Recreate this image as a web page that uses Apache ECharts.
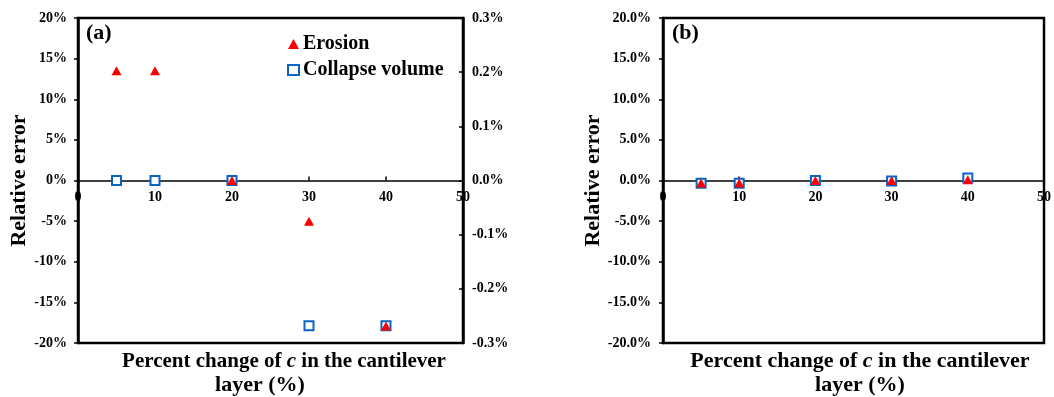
<!DOCTYPE html>
<html>
<head>
<meta charset="utf-8">
<script src="https://cdn.jsdelivr.net/npm/echarts@6/dist/echarts.min.js"></script>
<style>
html,body{margin:0;padding:0;background:#fff;}
#chart{width:1054px;height:397px;}
</style>
</head>
<body>
<div id="chart"></div>
<script>
// ---- data ----
const xValues = [5, 10, 20, 30, 40];
const xTicks = [0, 10, 20, 30, 40, 50];
const erosionA = [13.5, 13.5, 0.0, -5.0, -17.9];       // left axis (%)
const collapseA = [0.0, 0.0, 0.0, -0.268, -0.268];     // right axis (%)
const erosionB = [-0.3, -0.3, 0.0, 0.0, 0.1];          // left axis (%)
const collapseB = [-0.35, -0.35, 0.0, -0.05, 0.3];     // left axis (%)
const seriesNames = ['Erosion', 'Collapse volume'];
const panelLabels = ['(a)', '(b)'];
const yTitle = 'Relative error';
const xTitleLine1 = 'Percent change of {i|c} in the cantilever';
const xTitleLine2 = 'layer (%)';

const FONT = 'Liberation Serif';
const RED = '#FF0000';
const BLUE = '#0B63C4';

const pairs = vals => vals.map((v, i) => [xValues[i], v]);

const tickLabel = {fontFamily: FONT, fontWeight: 'bold', fontSize: 14, color: '#000'};
const GRID_H = 325;

function xAxisCfg(gridIndex) {
  return {
    type: 'value', gridIndex, position: 'bottom', offset: -GRID_H / 2,
    min: xTicks[0], max: xTicks[xTicks.length - 1], interval: 10,
    axisLine: {show: true, onZero: false, lineStyle: {color: '#000', width: 1.5}},
    axisTick: {show: true, inside: true, length: 4, lineStyle: {color: '#000', width: 1.5}},
    axisLabel: Object.assign({margin: 10, showMinLabel: true, showMaxLabel: true}, tickLabel),
    splitLine: {show: false}
  };
}

function titleText(x, y, text, size) {
  return {type: 'text', x, y, style: {text, align: 'center', fontFamily: FONT, fontWeight: 'bold', fontSize: size, fill: '#000',
    rich: {i: {fontFamily: FONT, fontWeight: 'bold', fontStyle: 'italic', fontSize: size, fill: '#000'}}}};
}

const chart = echarts.init(document.getElementById('chart'), null, {renderer: 'canvas'});
chart.setOption({
  animation: false,
  backgroundColor: '#fff',
  grid: [
    {left: 78, top: 18, width: 385, height: GRID_H, show: true, borderColor: '#000', borderWidth: 2.5, backgroundColor: 'transparent'},
    {left: 663, top: 18, width: 392, height: GRID_H, show: true, borderColor: '#000', borderWidth: 2.5, backgroundColor: 'transparent'}
  ],
  xAxis: [xAxisCfg(0), xAxisCfg(1)],
  yAxis: [
    {
      type: 'value', gridIndex: 0, min: -20, max: 20, interval: 5, position: 'left',
      name: yTitle, nameLocation: 'middle', nameGap: 45,
      nameTextStyle: {fontFamily: FONT, fontWeight: 'bold', fontSize: 22, color: '#000'},
      axisLine: {show: true, onZero: false, lineStyle: {color: '#000', width: 2.5}},
      axisTick: {show: true, inside: false, length: 4, lineStyle: {color: '#000', width: 1.5}},
      axisLabel: Object.assign({margin: 11, formatter: v => v.toFixed(0) + '%'}, tickLabel),
      splitLine: {show: false}
    },
    {
      type: 'value', gridIndex: 0, min: -0.3, max: 0.3, interval: 0.1, position: 'right',
      axisLine: {show: true, onZero: false, lineStyle: {color: '#000', width: 2.5}},
      axisTick: {show: true, inside: true, length: 4, lineStyle: {color: '#000', width: 1.5}},
      axisLabel: Object.assign({margin: 9, formatter: v => (Math.abs(v) < 1e-9 ? 0 : v).toFixed(1) + '%'}, tickLabel),
      splitLine: {show: false}
    },
    {
      type: 'value', gridIndex: 1, min: -20, max: 20, interval: 5, position: 'left',
      name: yTitle, nameLocation: 'middle', nameGap: 48,
      nameTextStyle: {fontFamily: FONT, fontWeight: 'bold', fontSize: 22, color: '#000'},
      axisLine: {show: true, onZero: false, lineStyle: {color: '#000', width: 2.5}},
      axisTick: {show: true, inside: false, length: 4, lineStyle: {color: '#000', width: 1.5}},
      axisLabel: Object.assign({margin: 12, formatter: v => v.toFixed(1) + '%'}, tickLabel),
      splitLine: {show: false}
    }
  ],
  legend: {
    orient: 'vertical', left: 282, top: 29, itemGap: 6, itemWidth: 11, itemHeight: 10,
    data: [
      {name: seriesNames[0], icon: 'triangle', itemStyle: {color: RED}},
      {name: seriesNames[1], icon: 'rect', itemStyle: {color: '#fff', borderColor: BLUE, borderWidth: 2}}
    ],
    textStyle: {fontFamily: FONT, fontWeight: 'bold', fontSize: 20, color: '#000', padding: [0, 0, 0, -1]}
  },
  series: [
    {
      name: seriesNames[1], type: 'scatter', xAxisIndex: 0, yAxisIndex: 1, data: pairs(collapseA),
      symbol: 'rect', symbolSize: 9, z: 2,
      itemStyle: {color: '#fff', borderColor: BLUE, borderWidth: 2, opacity: 1}
    },
    {
      name: seriesNames[0], type: 'scatter', xAxisIndex: 0, yAxisIndex: 0, data: pairs(erosionA),
      symbol: 'triangle', symbolSize: [10, 9], z: 3,
      itemStyle: {color: RED, opacity: 1}
    },
    {
      name: seriesNames[1], type: 'scatter', xAxisIndex: 1, yAxisIndex: 2, data: pairs(collapseB),
      symbol: 'rect', symbolSize: 9, z: 2,
      itemStyle: {color: '#fff', borderColor: BLUE, borderWidth: 2, opacity: 1}
    },
    {
      name: seriesNames[0], type: 'scatter', xAxisIndex: 1, yAxisIndex: 2, data: pairs(erosionB),
      symbol: 'triangle', symbolSize: [10, 9], z: 3,
      itemStyle: {color: RED, opacity: 1}
    }
  ],
  graphic: [
    {type: 'text', x: 86, y: 22, style: {text: panelLabels[0], fontFamily: FONT, fontWeight: 'bold', fontSize: 22, fill: '#000'}},
    {type: 'text', x: 672, y: 22, style: {text: panelLabels[1], fontFamily: FONT, fontWeight: 'bold', fontSize: 22, fill: '#000'}},
    titleText(284, 351, xTitleLine1, 21),
    titleText(260, 374, xTitleLine2, 22),
    titleText(860, 350, xTitleLine1, 22),
    titleText(860, 374, xTitleLine2, 22)
  ]
});
</script>
</body>
</html>
